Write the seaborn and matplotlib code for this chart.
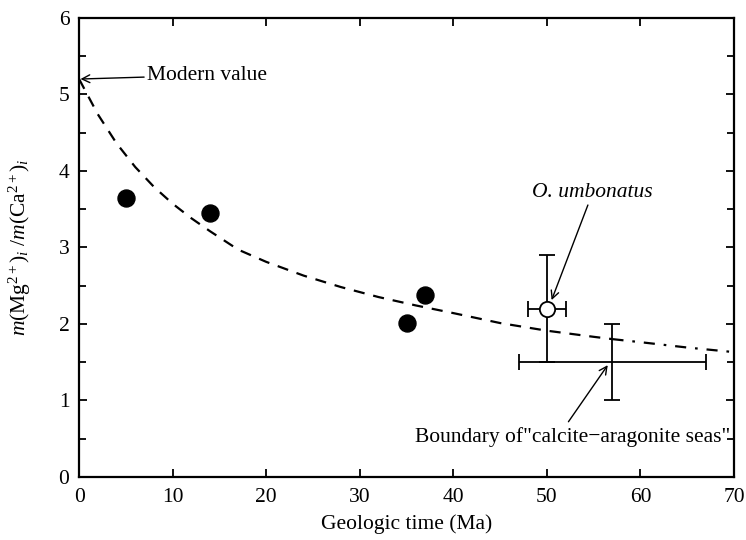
import numpy as np
import pandas as pd
import matplotlib
matplotlib.use("Agg")
import matplotlib.pyplot as plt
import seaborn as sns
from matplotlib.ticker import MultipleLocator

# ---- data ----
sample_age = [5, 14, 35, 37]
sample_ratio = [3.65, 3.45, 2.01, 2.38]

umb_age = [50]
umb_ratio = [2.2]
umb_xerr = [2]
umb_yerr = [0.7]

bound_age = [57]
bound_ratio = [1.5]
bound_xerr = [10]
bound_yerr = [0.5]

curve_age = [0, 2, 4, 6, 8, 10, 12, 14, 17, 20, 24, 28, 32, 36, 40, 45, 50, 55, 57]
curve_ratio = [5.2, 4.74, 4.36, 4.05, 3.79, 3.57, 3.38, 3.21, 2.97, 2.81, 2.63, 2.48,
               2.35, 2.24, 2.14, 2.01, 1.91, 1.83, 1.80]
tail_age = [57, 60, 65, 70]
tail_ratio = [1.80, 1.76, 1.69, 1.63]

modern_value = 5.2

sns.set_theme(style="ticks")
plt.rcParams['font.family'] = ['Liberation Serif', 'DejaVu Serif']
plt.rcParams['mathtext.fontset'] = 'custom'
plt.rcParams['mathtext.rm'] = 'Liberation Serif'
plt.rcParams['mathtext.it'] = 'Liberation Serif:italic'
plt.rcParams['text.color'] = 'black'
plt.rcParams['axes.labelcolor'] = 'black'

FS = 15.5

fig = plt.figure(figsize=(7.46, 5.40), dpi=100)
ax = fig.add_axes([0.106, 0.117, 0.878, 0.850])

df_curve = pd.DataFrame({"t": curve_age, "r": curve_ratio})
df_tail = pd.DataFrame({"t": tail_age, "r": tail_ratio})
sns.lineplot(data=df_curve, x="t", y="r", ax=ax, color="black", lw=1.6,
             linestyle=(0, (5, 4)), sort=False)
sns.lineplot(data=df_tail, x="t", y="r", ax=ax, color="black", lw=1.6,
             linestyle=(0, (5, 4, 1.2, 4)), sort=False)

df_pts = pd.DataFrame({"t": sample_age, "r": sample_ratio})
sns.scatterplot(data=df_pts, x="t", y="r", ax=ax, color="black", s=150,
                edgecolor="black", zorder=5)

ax.errorbar(bound_age, bound_ratio, xerr=bound_xerr, yerr=bound_yerr, fmt="none",
            ecolor="black", elinewidth=1.3, capsize=6, capthick=1.3, zorder=3)
ax.errorbar(umb_age, umb_ratio, xerr=umb_xerr, yerr=umb_yerr, fmt="o",
            mfc="white", mec="black", mew=1.3, ms=11, ecolor="black",
            elinewidth=1.3, capsize=6, capthick=1.3, zorder=4)

arrowprops = dict(arrowstyle="->", color="black", lw=1.0, shrinkA=0, shrinkB=0,
                  mutation_scale=14)
ax.annotate("Modern value", xy=(0.15, modern_value), xytext=(7.3, 5.25),
            fontsize=FS, va="center", ha="left",
            arrowprops=arrowprops)
ax.annotate("O. umbonatus", xy=(50.5, 2.31), xytext=(54.9, 3.72),
            fontsize=FS, va="center", ha="center", style="italic",
            arrowprops=arrowprops)
ax.annotate("", xy=(56.5, 1.46), xytext=(52.3, 0.72), arrowprops=arrowprops)
ax.text(69.6, 0.52, 'Boundary of"calcite\u2212aragonite seas"', fontsize=FS,
        ha="right", va="center")

ax.set_xlim(0, 70)
ax.set_ylim(0, 6)
ax.xaxis.set_major_locator(MultipleLocator(10))
ax.yaxis.set_major_locator(MultipleLocator(1))
ax.yaxis.set_minor_locator(MultipleLocator(0.5))
ax.tick_params(which="both", direction="in", top=True, right=True, labelsize=FS,
               width=1.3, color="black", labelcolor="black")
ax.tick_params(axis="x", which="major", length=6, pad=8)
ax.tick_params(axis="y", which="major", length=6, pad=7)
ax.tick_params(which="minor", length=5)
for s in ax.spines.values():
    s.set_linewidth(1.6)
    s.set_color("black")

ax.set_xlabel("Geologic time (Ma)", fontsize=FS, color="black", labelpad=5)
ax.set_ylabel(r"$m$(Mg$^{2+}$)$_i$ /$m$(Ca$^{2+}$)$_i$", fontsize=FS, color="black",
              labelpad=18)

fig.savefig("out.png", dpi=100)
